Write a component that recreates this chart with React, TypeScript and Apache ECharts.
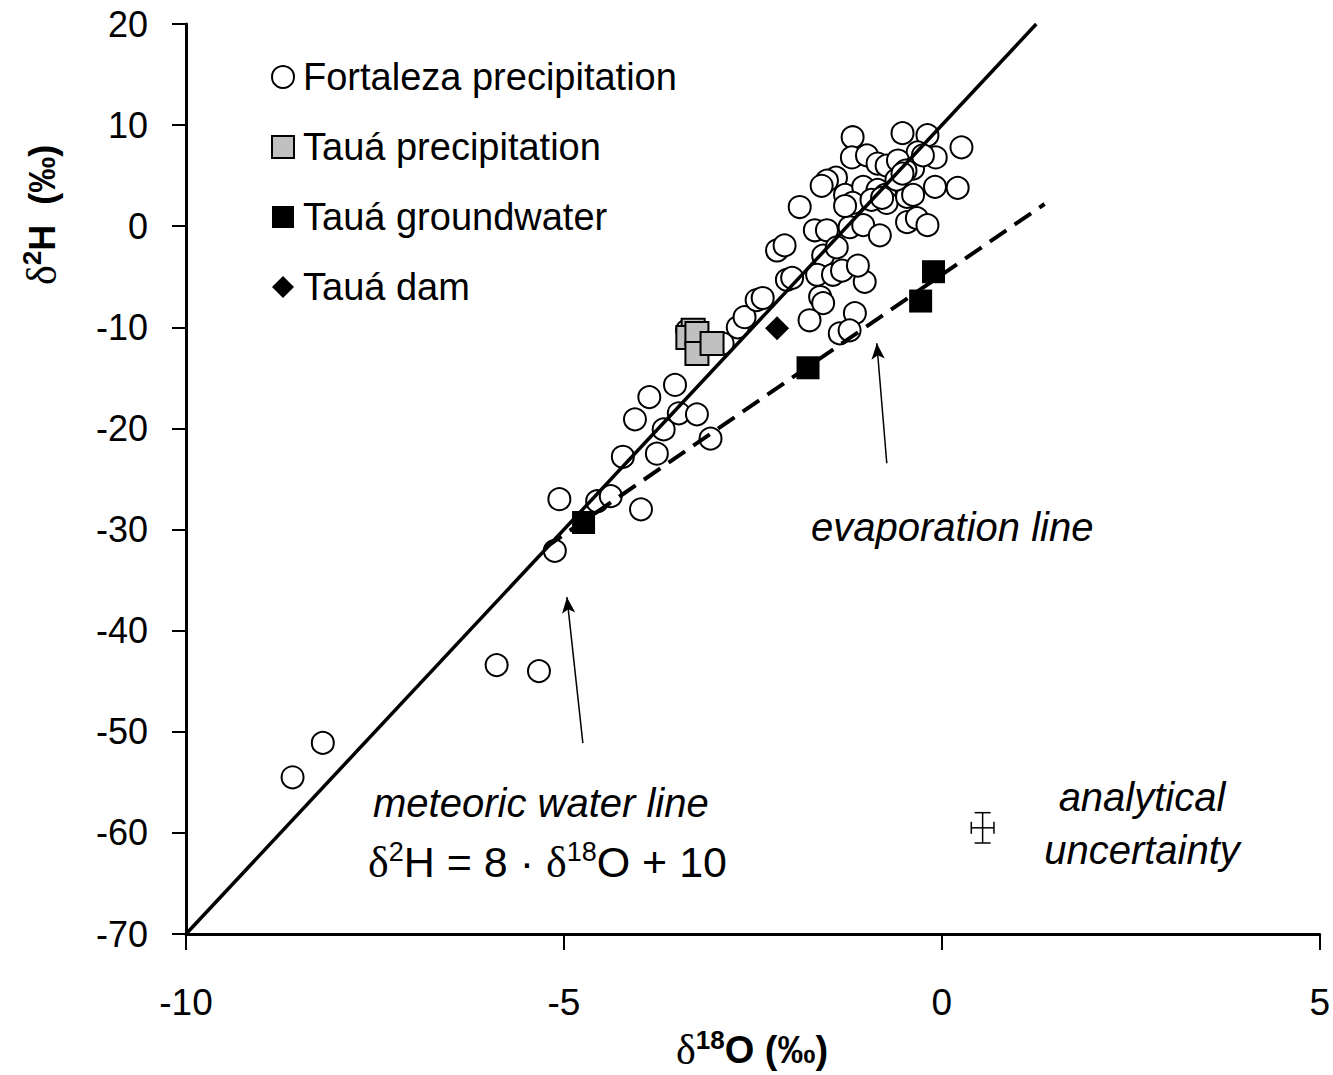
import React, { useEffect, useRef } from "react";
import * as echarts from "echarts";

// δ18O, δ2H pairs (‰)
const fortalezaPrecip: [number, number][] = [
  [-8.59, -54.5], [-8.19, -51.1], [-5.89, -43.4], [-5.33, -44.0], [-5.12, -32.1],
  [-5.06, -27.0], [-4.56, -27.2], [-4.38, -26.7], [-3.98, -28.0], [-4.22, -22.8],
  [-4.06, -19.1], [-3.87, -16.9], [-3.53, -15.7], [-3.68, -20.1], [-3.48, -18.5],
  [-3.77, -22.5], [-3.24, -18.6], [-3.06, -21.0],
  [-3.37, -10.3], [-2.9, -11.6], [-2.7, -10.0], [-2.61, -9.0], [-2.45, -7.3],
  [-2.37, -7.1], [-2.05, -5.3], [-1.98, -5.1], [-2.18, -2.4], [-2.08, -1.9],
  [-1.88, 1.9], [-1.68, -0.4], [-1.52, -0.4], [-1.57, -2.9], [-1.39, -2.1],
  [-1.65, -4.8], [-1.44, -4.8], [-1.32, -4.4], [-1.61, -7.0], [-1.57, -7.6],
  [-1.75, -9.3], [-1.15, -8.6], [-1.35, -10.6], [-1.22, -10.3], [-1.02, -5.5],
  [-1.11, -3.9],
  [-1.18, 8.8], [-0.52, 9.2], [-0.19, 9.0], [0.26, 7.8], [-0.32, 7.3],
  [-0.08, 6.8], [-1.19, 6.8], [-0.99, 7.0], [-0.85, 6.2], [-0.73, 6.0],
  [-1.4, 4.8], [-1.52, 4.5], [-1.59, 4.0], [-1.28, 3.1], [-1.04, 3.9],
  [-0.85, 3.6], [-0.75, 3.1], [-0.73, 2.3], [-0.46, 2.9], [-0.38, 3.1],
  [-0.09, 3.9], [0.21, 3.8], [-0.46, 0.4], [-0.33, 0.8], [-0.19, 0.1],
  [-1.18, 2.3], [-0.93, 2.6], [-0.79, 2.8], [-1.22, -0.1], [-1.04, 0.1],
  [-0.82, -0.9], [-0.58, 6.5], [-0.38, 5.7], [-0.25, 7.0], [-0.48, 5.5],
  [-1.28, 2.0], [-0.6, 4.6], [-0.52, 5.2],
];
const tauaPrecip: [number, number][] = [
  [-3.29, -10.3], [-3.36, -11.0], [-3.24, -10.6], [-3.24, -12.6], [-3.04, -11.6],
];
const tauaGroundwater: [number, number][] = [
  [-4.74, -29.3], [-1.77, -14.0], [-0.28, -7.4], [-0.11, -4.5],
];
const tauaDam: [number, number][] = [[-2.18, -10.1]];

// line end points
const meteoricLine: [number, number][] = [[-10, -70], [1.25, 20]];
const evaporationLine: [number, number][] = [[-5.25, -31.8], [1.36, 2.2]];

// annotation arrows: [tail, head]
const evapArrow: [number, number][] = [[-0.728, -23.44], [-0.86, -11.57]];
const mwlArrow: [number, number][] = [[-4.749, -51.13], [-4.96, -36.69]];

// analytical uncertainty: x, y, ±δ18O, ±δ2H
const uncertainty: number[][] = [[0.54, -59.5, 0.15, 1.5]];

const xTicks = { min: -10, max: 5, interval: 5 };
const yTicks = { min: -70, max: 20, interval: 10 };

const FONT = "'Liberation Sans', Arial, sans-serif";
const SERIF = "'Liberation Serif', 'DejaVu Serif', serif";

export default function App() {
  const ref = useRef<HTMLDivElement>(null);
  useEffect(() => {
    if (!ref.current) return;
    const chart = echarts.init(ref.current, null, { renderer: "svg" });
    const axisCommon = {
      type: "value" as const,
      axisLine: { show: true, onZero: false, lineStyle: { color: "#000", width: 3 } },
      axisTick: { show: true, inside: false, lineStyle: { color: "#000", width: 2 } },
      splitLine: { show: false },
    };
    const option: any = {
      animation: false,
      backgroundColor: "#fff",
      textStyle: { fontFamily: FONT, color: "#000" },
      grid: { left: 186, top: 24, right: 11, bottom: 141, containLabel: false },
      xAxis: {
        ...axisCommon,
        ...xTicks,
        axisTick: { ...axisCommon.axisTick, length: 16 },
        axisLabel: { fontSize: 37, color: "#000", margin: 50, fontFamily: FONT },
      },
      yAxis: {
        ...axisCommon,
        ...yTicks,
        axisTick: { ...axisCommon.axisTick, length: 14 },
        axisLabel: { fontSize: 36, color: "#000", margin: 38, fontFamily: FONT },
      },
      legend: {
        orient: "vertical",
        left: 266,
        top: 52,
        itemWidth: 22,
        itemHeight: 22,
        itemGap: 30,
        selectedMode: false,
        textStyle: { fontSize: 38, color: "#000", fontFamily: FONT, lineHeight: 40, padding: [0, 0, 0, 4] },
        data: [
          { name: "Fortaleza precipitation", icon: "circle" },
          { name: "Tauá precipitation", icon: "rect" },
          { name: "Tauá groundwater", icon: "rect" },
          { name: "Tauá dam", icon: "diamond" },
        ],
      },
      series: [
        {
          name: "Fortaleza precipitation",
          type: "scatter",
          data: fortalezaPrecip,
          symbol: "circle",
          symbolSize: 22,
          itemStyle: { color: "#fff", borderColor: "#000", borderWidth: 2, opacity: 1 },
          z: 2,
        },
        {
          name: "Tauá precipitation",
          type: "scatter",
          data: tauaPrecip,
          symbol: "rect",
          symbolSize: 23,
          itemStyle: { color: "#c0c0c0", borderColor: "#000", borderWidth: 2, opacity: 1 },
          z: 3,
        },
        {
          name: "Tauá dam",
          type: "scatter",
          data: tauaDam,
          symbol: "diamond",
          symbolSize: [24, 24],
          itemStyle: { color: "#000", opacity: 1 },
          z: 3,
        },
        {
          type: "line",
          data: meteoricLine,
          symbol: "none",
          lineStyle: { color: "#000", width: 3.5, opacity: 1 },
          z: 4,
          silent: true,
        },
        {
          type: "line",
          data: evaporationLine,
          symbol: "none",
          lineStyle: { color: "#000", width: 4, type: [20, 10], opacity: 1 },
          z: 4,
          silent: true,
          markLine: {
            silent: true,
            symbol: ["none", "arrow"],
            symbolSize: [10, 16],
            label: { show: false },
            lineStyle: { color: "#000", width: 1.5, type: "solid", opacity: 1 },
            data: [
              [{ coord: evapArrow[0] }, { coord: evapArrow[1] }],
              [{ coord: mwlArrow[0] }, { coord: mwlArrow[1] }],
            ],
          },
        },
        {
          name: "Tauá groundwater",
          type: "scatter",
          data: tauaGroundwater,
          symbol: "rect",
          symbolSize: 23,
          itemStyle: { color: "#000", opacity: 1 },
          z: 5,
        },
        {
          type: "custom",
          data: uncertainty,
          silent: true,
          z: 5,
          renderItem: (_p: any, api: any) => {
            const x = api.value(0), y = api.value(1), dx = api.value(2), dy = api.value(3);
            const l = api.coord([x - dx, y]);
            const r = api.coord([x + dx, y]);
            const t = api.coord([x, y + dy]);
            const b = api.coord([x, y - dy]);
            const st = { stroke: "#000", lineWidth: 1.5 };
            const ln = (x1: number, y1: number, x2: number, y2: number) => ({
              type: "line",
              shape: { x1, y1, x2, y2 },
              style: st,
            });
            return {
              type: "group",
              children: [
                ln(l[0], l[1], r[0], r[1]),
                ln(t[0], t[1], b[0], b[1]),
                ln(t[0] - 8, t[1], t[0] + 8, t[1]),
                ln(b[0] - 8, b[1], b[0] + 8, b[1]),
                ln(l[0], l[1] - 6, l[0], l[1] + 6),
                ln(r[0], r[1] - 6, r[0], r[1] + 6),
              ],
            };
          },
        },
      ],
      graphic: [
        {
          type: "text",
          x: 811,
          y: 527,
          style: {
            text: "evaporation line",
            fontSize: 40,
            fontStyle: "italic",
            fontFamily: FONT,
            fill: "#000",
            verticalAlign: "middle",
            align: "left",
          },
        },
        {
          type: "text",
          x: 373,
          y: 803,
          style: {
            text: "meteoric water line",
            fontSize: 40,
            fontStyle: "italic",
            fontFamily: FONT,
            fill: "#000",
            verticalAlign: "middle",
            align: "left",
          },
        },
        {
          type: "text",
          x: 368,
          y: 862,
          style: {
            text: "{d|δ}{s|2}{n|H = 8 · }{d|δ}{s|18}{n|O + 10}",
            verticalAlign: "middle",
            align: "left",
            fill: "#000",
            rich: {
              d: { fontFamily: SERIF, fontSize: 44, lineHeight: 48, fill: "#000" },
              s: { fontFamily: FONT, fontSize: 27, lineHeight: 27, verticalAlign: "top", fill: "#000" },
              n: { fontFamily: FONT, fontSize: 43, lineHeight: 48, fill: "#000" },
            },
          },
        },
        {
          type: "text",
          x: 1142,
          y: 797,
          style: {
            text: "analytical",
            fontSize: 40,
            fontStyle: "italic",
            fontFamily: FONT,
            fill: "#000",
            verticalAlign: "middle",
            align: "center",
          },
        },
        {
          type: "text",
          x: 1142,
          y: 850,
          style: {
            text: "uncertainty",
            fontSize: 40,
            fontStyle: "italic",
            fontFamily: FONT,
            fill: "#000",
            verticalAlign: "middle",
            align: "center",
          },
        },
        {
          type: "text",
          x: 752,
          y: 1050,
          style: {
            text: "{d|δ}{s|18}{b|O (‰)}",
            verticalAlign: "middle",
            align: "center",
            fill: "#000",
            rich: {
              d: { fontFamily: SERIF, fontSize: 42, lineHeight: 46, fill: "#000" },
              s: { fontFamily: FONT, fontSize: 26, fontWeight: "bold", lineHeight: 28, verticalAlign: "top", fill: "#000" },
              b: { fontFamily: FONT, fontSize: 38, fontWeight: "bold", lineHeight: 46, fill: "#000" },
            },
          },
        },
        {
          type: "text",
          x: 42,
          y: 215,
          rotation: Math.PI / 2,
          style: {
            text: "{d|δ}{s|2}{b|H  (‰)}",
            verticalAlign: "middle",
            align: "center",
            fill: "#000",
            rich: {
              d: { fontFamily: SERIF, fontSize: 42, lineHeight: 46, fill: "#000" },
              s: { fontFamily: FONT, fontSize: 26, fontWeight: "bold", lineHeight: 28, verticalAlign: "top", fill: "#000" },
              b: { fontFamily: FONT, fontSize: 36, fontWeight: "bold", lineHeight: 46, fill: "#000" },
            },
          },
        },
      ],
    };
    chart.setOption(option);
    return () => chart.dispose();
  }, []);
  return (
    <div
      ref={ref}
      style={{ position: "absolute", left: 0, top: 0, width: 1333, height: 1075, background: "#fff" }}
    />
  );
}
